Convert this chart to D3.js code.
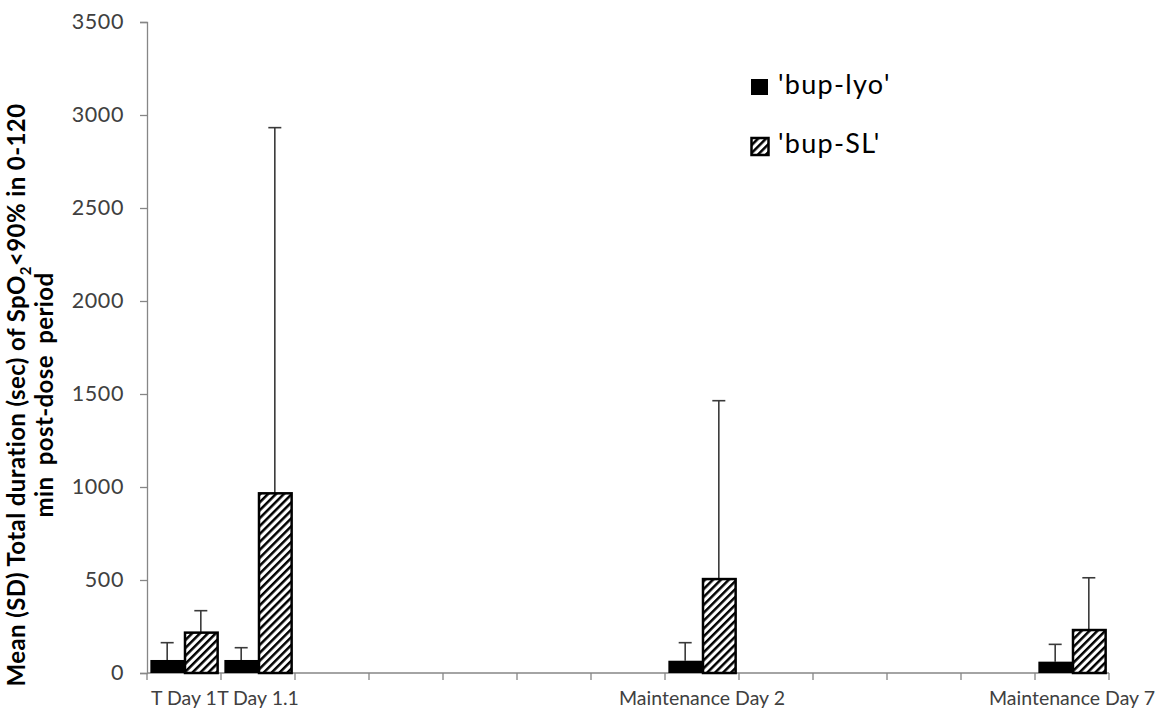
<!DOCTYPE html>
<html>
<head>
<meta charset="utf-8">
<script src="https://cdn.jsdelivr.net/npm/d3@7"></script>
<style>
  html, body { margin: 0; padding: 0; background: #fff; }
  svg { display: block; }
  text { font-family: Lato, "Open Sans", sans-serif; }
</style>
</head>
<body>
<svg id="chart" width="1161" height="713"></svg>
<script>
// ---- data ----
const categories = ["T Day 1", "T Day 1.1", "", "", "", "", "", "Maintenance Day 2", "", "", "", "", "Maintenance Day 7"];
const seriesNames = ["'bup-lyo'", "'bup-SL'"];
const lyoMean = [70, 70, null, null, null, null, null, 66, null, null, null, null, 61];
const lyoSD   = [93, 66, null, null, null, null, null, 97, null, null, null, null, 93];
const slMean  = [217, 966, null, null, null, null, null, 505, null, null, null, null, 231];
const slSD    = [118, 1966, null, null, null, null, null, 959, null, null, null, null, 281];
const yTicks  = [0, 500, 1000, 1500, 2000, 2500, 3000, 3500];

const svg = d3.select("#chart");
const margin = { left: 147, right: 1161 - 1109, top: 22, bottom: 713 - 673 };
const W = 1161, H = 713;

const defs = svg.append("defs");
const pat = defs.append("pattern")
  .attr("id", "hatch").attr("patternUnits", "userSpaceOnUse")
  .attr("width", 5.6).attr("height", 5.6)
  .attr("patternTransform", "rotate(45)");
pat.append("rect").attr("width", 5.6).attr("height", 5.6).attr("fill", "#fff");
pat.append("rect").attr("x", 0).attr("y", 0).attr("width", 2.5).attr("height", 5.6).attr("fill", "#000");

const x = d3.scaleBand().domain(d3.range(categories.length))
  .range([margin.left, W - margin.right]).paddingInner(0).paddingOuter(0);
const xs = d3.scaleBand().domain([0, 1]).range([0, x.bandwidth()]).paddingInner(0).paddingOuter(0.1);
const y = d3.scaleLinear().domain([0, 3500]).range([H - margin.bottom, margin.top]);

const axisColor = "#868686";
const textColor = "#404040";

// y axis
const yAxis = svg.append("g").attr("transform", `translate(${margin.left},0)`)
  .call(d3.axisLeft(y).tickValues(yTicks).tickSize(7).tickPadding(16).tickFormat(d3.format("d")));
yAxis.select(".domain").attr("stroke", axisColor).attr("stroke-width", 1.3);
yAxis.selectAll(".tick line").attr("stroke", axisColor).attr("stroke-width", 1.3);
yAxis.selectAll(".tick text").attr("fill", textColor).attr("font-size", 21.5)
  .attr("letter-spacing", 0.6).attr("font-family", "Lato, sans-serif");

// x axis
const xAxis = svg.append("g").attr("transform", `translate(0,${H - margin.bottom})`);
xAxis.append("line").attr("x1", x.range()[0]).attr("x2", x.range()[1])
  .attr("stroke", axisColor).attr("stroke-width", 1.3);
const xTickPos = d3.range(categories.length + 1).map(i => i < categories.length ? x(i) : x(categories.length - 1) + x.bandwidth());
xAxis.selectAll("line.tk").data(xTickPos).join("line").attr("class", "tk")
  .attr("x1", d => d).attr("x2", d => d).attr("y1", 0).attr("y2", 7)
  .attr("stroke", axisColor).attr("stroke-width", 1.3);
xAxis.selectAll("text.lbl").data(categories.map((c, i) => ({ c, i })).filter(d => d.c))
  .join("text").attr("class", "lbl")
  .attr("x", d => x(d.i) + x.bandwidth() / 2).attr("y", 27)
  .attr("text-anchor", "middle").attr("dominant-baseline", "middle")
  .attr("fill", textColor).attr("font-size", 19.5).text(d => d.c);

// bars
const rows = categories.map((c, i) => ({ i, vals: [
  { s: 0, m: lyoMean[i], sd: lyoSD[i] },
  { s: 1, m: slMean[i], sd: slSD[i] }
]})).filter(r => r.vals[0].m != null);

const g = svg.append("g");
rows.forEach(r => {
  r.vals.forEach(v => {
    const bx = x(r.i) + xs(v.s);
    const cx = bx + xs.bandwidth() / 2;
    // error bar (upper only)
    g.append("line").attr("x1", cx).attr("x2", cx).attr("y1", y(v.m)).attr("y2", y(v.m + v.sd))
      .attr("stroke", "#3a3a3a").attr("stroke-width", 1.6);
    g.append("line").attr("x1", cx - 6.5).attr("x2", cx + 6.5).attr("y1", y(v.m + v.sd)).attr("y2", y(v.m + v.sd))
      .attr("stroke", "#3a3a3a").attr("stroke-width", 1.6);
    if (v.s === 0) {
      g.append("rect").attr("x", bx).attr("y", y(v.m)).attr("width", xs.bandwidth())
        .attr("height", y(0) - y(v.m)).attr("fill", "#000");
    } else {
      g.append("rect").attr("x", bx + 1).attr("y", y(v.m)).attr("width", xs.bandwidth() - 1)
        .attr("height", y(0) - y(v.m)).attr("fill", "url(#hatch)")
        .attr("stroke", "#000").attr("stroke-width", 2.5);
    }
  });
});

// legend
const leg = svg.append("g");
const legItems = [{ name: seriesNames[0], fill: "#000", y: 87 }, { name: seriesNames[1], fill: "url(#hatch)", y: 146 }];
legItems.forEach((d, k) => {
  if (k === 0) {
    leg.append("rect").attr("x", 751).attr("y", d.y - 8).attr("width", 17).attr("height", 16).attr("fill", "#000");
  } else {
    leg.append("rect").attr("x", 751.5).attr("y", d.y - 8).attr("width", 17).attr("height", 17)
      .attr("fill", d.fill).attr("stroke", "#000").attr("stroke-width", 2.5);
  }
  leg.append("text").attr("x", 778).attr("y", d.y).attr("dominant-baseline", "middle")
    .attr("font-size", 27).attr("letter-spacing", 1.3).attr("fill", "#000").text(d.name);
});

// y title
const yt = svg.append("text").attr("transform", "translate(0,395) rotate(-90)")
  .attr("text-anchor", "middle").attr("font-weight", "bold").attr("font-size", 24)
  .attr("letter-spacing", 0.4).attr("fill", "#000");
const l1 = yt.append("tspan").attr("x", 0).attr("y", 25);
l1.append("tspan").text("Mean (SD) Total duration (sec) of SpO");
l1.append("tspan").attr("font-size", 15).attr("dy", 6).text("2");
l1.append("tspan").attr("dy", -6).text("<90% in 0-120");
yt.append("tspan").attr("x", 0).attr("y", 53).attr("word-spacing", 5).text("min post-dose period");
</script>
</body>
</html>
